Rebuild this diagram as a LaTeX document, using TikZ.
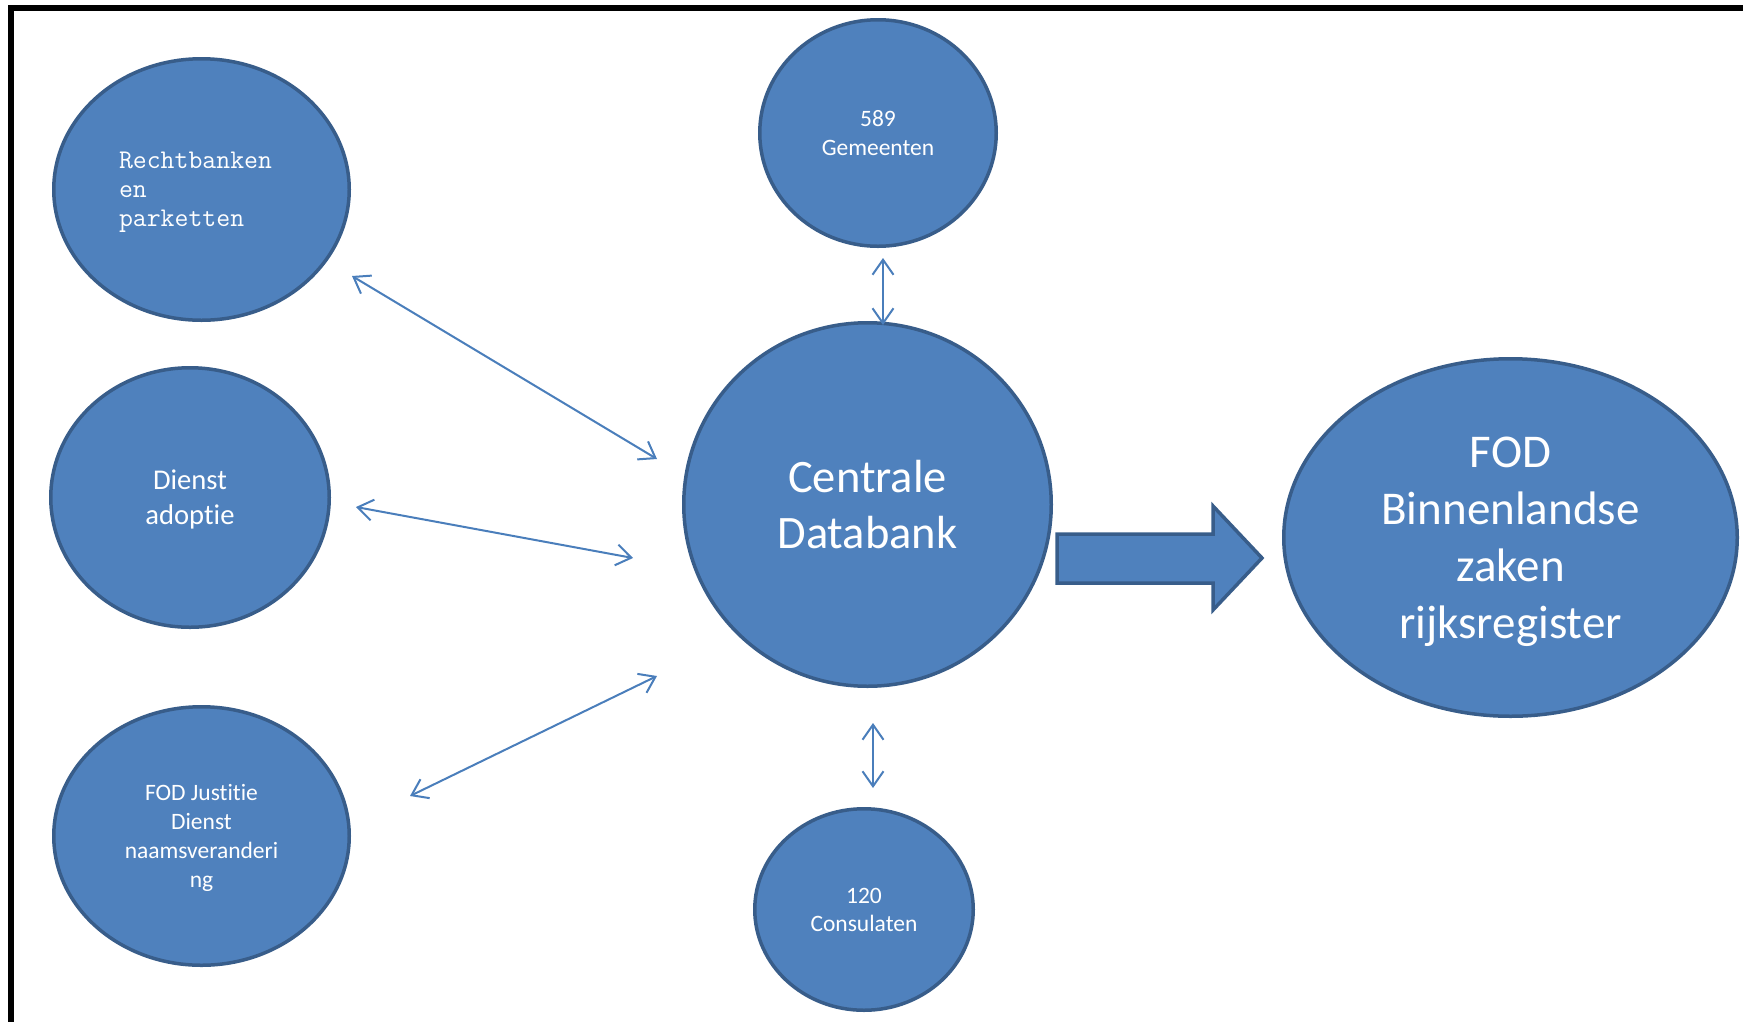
\documentclass[tikz,border=0pt]{standalone}
\usepackage{fontspec}
\setmainfont[Ligatures=NoCommon]{Carlito}
\usetikzlibrary{arrows.meta,shapes.geometric}
\definecolor{fillblue}{HTML}{4F81BD}
\definecolor{edgeblue}{HTML}{385D8A}
\definecolor{linkblue}{HTML}{4A7EBB}
\begin{document}
\begin{tikzpicture}[x=1pt,y=-1pt,
  bubble/.style={ellipse, draw=edgeblue, fill=fillblue, line width=3.5pt,
    inner sep=0pt, text=white, align=center, text depth=0pt},
  link/.style={draw=linkblue, line width=2pt,
    {Straight Barb[length=15pt,width=21pt]}-{Straight Barb[length=15pt,width=21pt]}},
  blockarrow/.style={draw=edgeblue, fill=fillblue, line width=3.5pt, line join=miter},
  frame/.style={draw=black, line width=6pt, line join=miter}
]
\useasboundingbox (0,0) rectangle (1743,1021);
\draw[frame] (11,1030) -- (11,8) -- (1750,8);

\node[bubble, minimum width=295.5pt, minimum height=261.5pt, align=left,
  font=\ttfamily\fontsize{27}{29}\selectfont] (rb) at (201.5,189.5)
  {Rechtbanken\hspace*{12pt}\\en\\parketten};
\node[bubble, minimum width=278.5pt, minimum height=259.5pt,
  font=\fontsize{28.6}{35}\selectfont] (da) at (190,497.5) {Dienst\\adoptie};
\node[bubble, minimum width=295.5pt, minimum height=258.5pt,
  font=\fontsize{23.5}{29}\selectfont] (fj) at (201.5,836)
  {FOD Justitie\\Dienst\\naamsveranderi\\ng};
\node[bubble, minimum width=236.5pt, minimum height=226.5pt,
  font=\fontsize{23.5}{29}\selectfont] (gm) at (878,133) {589\\Gemeenten};
\node[bubble, minimum width=367.5pt, minimum height=363.5pt,
  font=\fontsize{46.5}{56}\selectfont] (cd) at (867.5,504.5) {Centrale\\Databank};
\node[bubble, minimum width=218.5pt, minimum height=201.5pt,
  font=\fontsize{23.5}{28}\selectfont] (cs) at (864,909.5) {120\\Consulaten};
\node[bubble, minimum width=453.5pt, minimum height=357.5pt,
  font=\fontsize{47}{57}\selectfont] (fb) at (1510.5,537.5)
  {FOD\\Binnenlandse\\zaken\\rijksregister};

\coordinate (rbA) at (352,276);  \coordinate (cdA) at (657,459);
\coordinate (daA) at (356,507);  \coordinate (cdB) at (633,558);
\coordinate (fjA) at (410,796);  \coordinate (cdC) at (657,676);
\coordinate (gmA) at (883,258);  \coordinate (cdD) at (883,325);
\coordinate (csA) at (873,788);  \coordinate (cdE) at (873,723);

\draw[link] (rbA) -- (cdA);
\draw[link] (daA) -- (cdB);
\draw[link] (fjA) -- (cdC);
\draw[link] (gmA) -- (cdD);
\draw[link] (cdE) -- (csA);

\draw[blockarrow] (1057,534) -- (1213,534) -- (1213,506) -- (1262,558)
  -- (1213,610) -- (1213,583) -- (1057,583) -- cycle;
\end{tikzpicture}
\end{document}
